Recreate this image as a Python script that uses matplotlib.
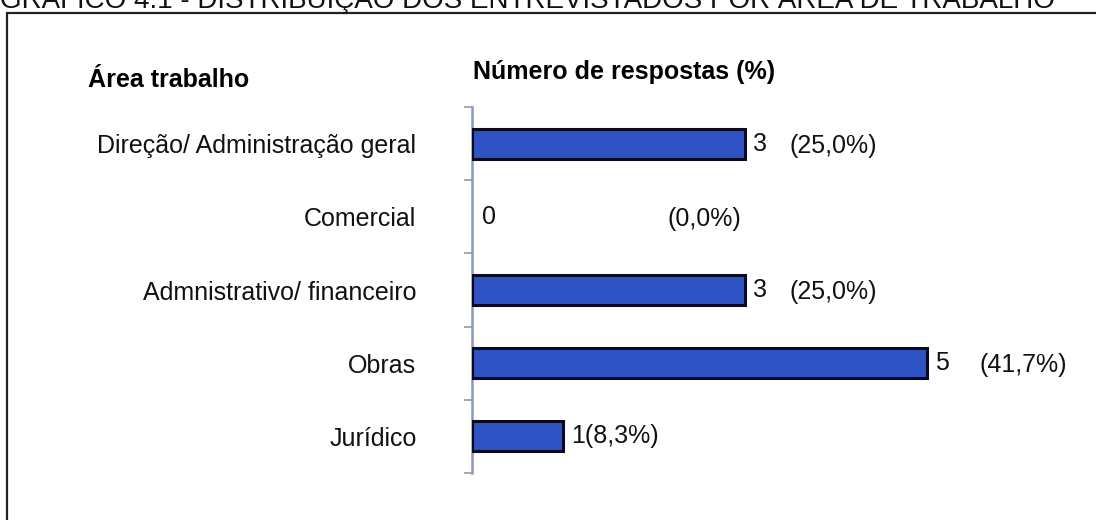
import matplotlib
matplotlib.use("Agg")
import matplotlib.pyplot as plt
from matplotlib.patches import Rectangle

# ---- data ----
categories = ["Direção/ Administração geral", "Comercial", "Admnistrativo/ financeiro", "Obras", "Jurídico"]
values = [3, 0, 3, 5, 1]
percents = ["(25,0%)", "(0,0%)", "(25,0%)", "(41,7%)", "(8,3%)"]
title = "GRÁFICO 4.1 - DISTRIBUIÇÃO DOS ENTREVISTADOS POR ÁREA DE TRABALHO"
header_left = "Área trabalho"
header_right = "Número de respostas (%)"

# ---- layout / style ----
pct_label_x = [3.49, 2.15, 3.49, 5.58, None]   # None -> attached to value label
W, H = 1096, 520
plt.rcParams['font.family'] = ['Liberation Sans', 'DejaVu Sans']
FS = 18
bar_color = "#2f52c4"
axis_color = "#8a96c8"

fig = plt.figure(figsize=(W / 100, H / 100), dpi=100)
ax = fig.add_axes([472 / W, 1 - 473 / H, (W - 472) / W, 366 / H])

ypos = list(range(len(categories)))
ax.barh(ypos, values, height=0.41, color=bar_color, edgecolor="#0a0a20",
        linewidth=[2.2 if v > 0 else 0 for v in values], zorder=3)
ax.set_xlim(0, (W - 472) / 91.0)
ax.set_ylim(len(categories) - 0.5, -0.5)

for s in ["top", "right", "bottom"]:
    ax.spines[s].set_visible(False)
ax.spines["left"].set_color(axis_color)
ax.spines["left"].set_linewidth(1.8)
ax.set_xticks([])

ax.set_yticks(ypos)
ax.set_yticklabels(categories, fontsize=FS, color="#111111")
ax.tick_params(axis="y", which="major", length=0, pad=40)
ax.set_yticks([i - 0.5 for i in range(len(categories) + 1)], minor=True)
ax.tick_params(axis="y", which="minor", length=6, width=1.2, color="#999999", direction="out")

for i, (v, p, px) in enumerate(zip(values, percents, pct_label_x)):
    label = str(v) if px is not None else f"{v}{p}"
    ax.annotate(label, xy=(v, i), xytext=(6 if v > 0 else 7, 0), textcoords="offset points",
                ha="left", va="center", fontsize=FS, color="#111111")
    if px is not None:
        ax.text(px, i + 0.03, p, ha="left", va="center", fontsize=FS, color="#111111")

# headers
fig.text(88 / W, 1 - 80 / H, header_left, ha="left", va="center", fontsize=FS, fontweight="bold")
fig.text(473 / W, 1 - 72 / H, header_right, ha="left", va="center", fontsize=FS, fontweight="bold")

# title at the very top (partly cut off by the page edge, as in the original scan)
fig.text(0 / W, 1 - 8 / H, title, ha="left", va="baseline", fontsize=20, color="#111111")

# frame
fig.add_artist(Rectangle((7 / W, -0.2), 1.2, (1 - 13 / H) + 0.2, transform=fig.transFigure,
                         fill=False, edgecolor="#222222", linewidth=1.6))

fig.savefig("out.png", dpi=100)
